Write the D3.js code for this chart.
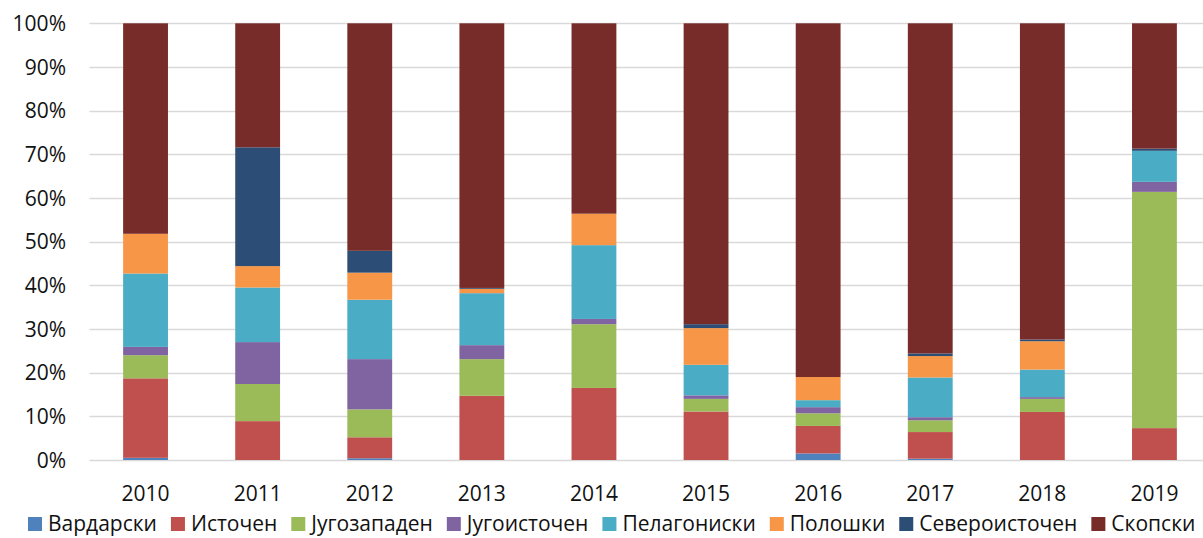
<!DOCTYPE html>
<html>
<head>
<meta charset="utf-8">
<script src="https://cdn.jsdelivr.net/npm/d3@7"></script>
<style>
  html, body { margin: 0; padding: 0; background: #fff; overflow: hidden; }
  svg { display: block; font-family: "Open Sans", "Noto Sans", sans-serif; }
  .grid line { stroke: #d9d9d9; stroke-width: 1.3; }
  .tick-label { font-size: 21px; fill: #111; }
  .legend-label { font-size: 21px; fill: #111; }
</style>
</head>
<body>
<div id="chart"></div>
<script>
// shares per region (percent)
var years = ["2010", "2011", "2012", "2013", "2014", "2015", "2016", "2017", "2018", "2019"];
var regions = ["Вардарски", "Источен", "Југозападен", "Југоисточен",
               "Пелагониски", "Полошки", "Североисточен", "Скопски"];
var colors = ["#4f81bd", "#c0504d", "#9bbb59", "#8064a2",
              "#4bacc6", "#f79646", "#2c4d75", "#772c2a"];

var vardarski     = [0.5, 0,    0.4,  0,    0,    0,    1.5,  0.3,  0,    0];
var istochen      = [18.2, 8.9, 4.8,  14.7, 16.5, 11.1, 6.3,  6.1,  11.0, 7.3];
var jugozapaden   = [5.3, 8.5,  6.4,  8.4,  14.6, 2.9,  2.9,  2.7,  3.0,  54.1];
var jugoistochen  = [1.9, 9.6,  11.5, 3.2,  1.2,  0.8,  1.4,  0.7,  0.4,  2.3];
var pelagoniski   = [16.8, 12.5, 13.6, 11.9, 16.9, 7.0, 1.6,  9.1,  6.3,  7.1];
var poloshki      = [9.1, 4.9,  6.2,  1.0,  7.2,  8.4,  5.3,  4.9,  6.5,  0];
var severoistochen = [0,  27.2, 5.0,  0.2,  0,    0.9,  0,    0.6,  0.4,  0.5];
var skopski       = [48.2, 28.4, 52.1, 60.6, 43.6, 68.9, 81.0, 75.6, 72.4, 28.7];

var yTicks = [0, 0.1, 0.2, 0.3, 0.4, 0.5, 0.6, 0.7, 0.8, 0.9, 1];

var W = 1203, H = 538;
var series = [vardarski, istochen, jugozapaden, jugoistochen,
              pelagoniski, poloshki, severoistochen, skopski];

// one row per year, normalised to 100%
var table = years.map(function (y, i) {
  var row = { year: y }, total = 0;
  series.forEach(function (s) { total += s[i]; });
  regions.forEach(function (r, k) { row[r] = series[k][i] / total; });
  return row;
});
var stacked = d3.stack().keys(regions)(table);

// plot runs past the right edge, as in the cropped original
var x = d3.scaleBand().domain(years).range([89.5, 1210.5])
  .paddingInner(0.6).paddingOuter(0.3);
var y = d3.scaleLinear().domain([0, 1]).range([460, 23.3]);

var svg = d3.select("#chart").append("svg")
  .attr("width", W).attr("height", H);

svg.append("g").attr("class", "grid").selectAll("line").data(yTicks).join("line")
  .attr("x1", 89.5).attr("x2", W)
  .attr("y1", function (d) { return Math.round(y(d)) + 0.5; })
  .attr("y2", function (d) { return Math.round(y(d)) + 0.5; });

svg.append("g").selectAll("text").data(yTicks).join("text")
  .attr("class", "tick-label")
  .attr("x", 66).attr("y", function (d) { return y(d); })
  .attr("dy", "0.36em").attr("text-anchor", "end")
  .text(d3.format(".0%"));

svg.append("g").selectAll("g").data(stacked).join("g")
  .attr("fill", function (d, i) { return colors[i]; })
  .selectAll("rect").data(function (d) { return d; }).join("rect")
  .attr("x", function (d) { return x(d.data.year); })
  .attr("width", x.bandwidth())
  .attr("y", function (d) { return y(d[1]); })
  .attr("height", function (d) { return Math.max(0, y(d[0]) - y(d[1])); });

svg.append("g").selectAll("text").data(years).join("text")
  .attr("class", "tick-label")
  .attr("x", function (d) { return x(d) + x.bandwidth() / 2; })
  .attr("y", 501).attr("text-anchor", "middle")
  .text(function (d) { return d; });

// legend: square + label, flowing left to right along the bottom edge
var legend = svg.append("g");
var lx = 28;
regions.forEach(function (r, i) {
  legend.append("rect").attr("x", lx).attr("y", 517)
    .attr("width", 14).attr("height", 14).attr("fill", colors[i]);
  var t = legend.append("text").attr("class", "legend-label")
    .attr("x", lx + 20).attr("y", 531).text(r);
  lx += 20 + t.node().getComputedTextLength() + 14;
});
</script>
</body>
</html>
